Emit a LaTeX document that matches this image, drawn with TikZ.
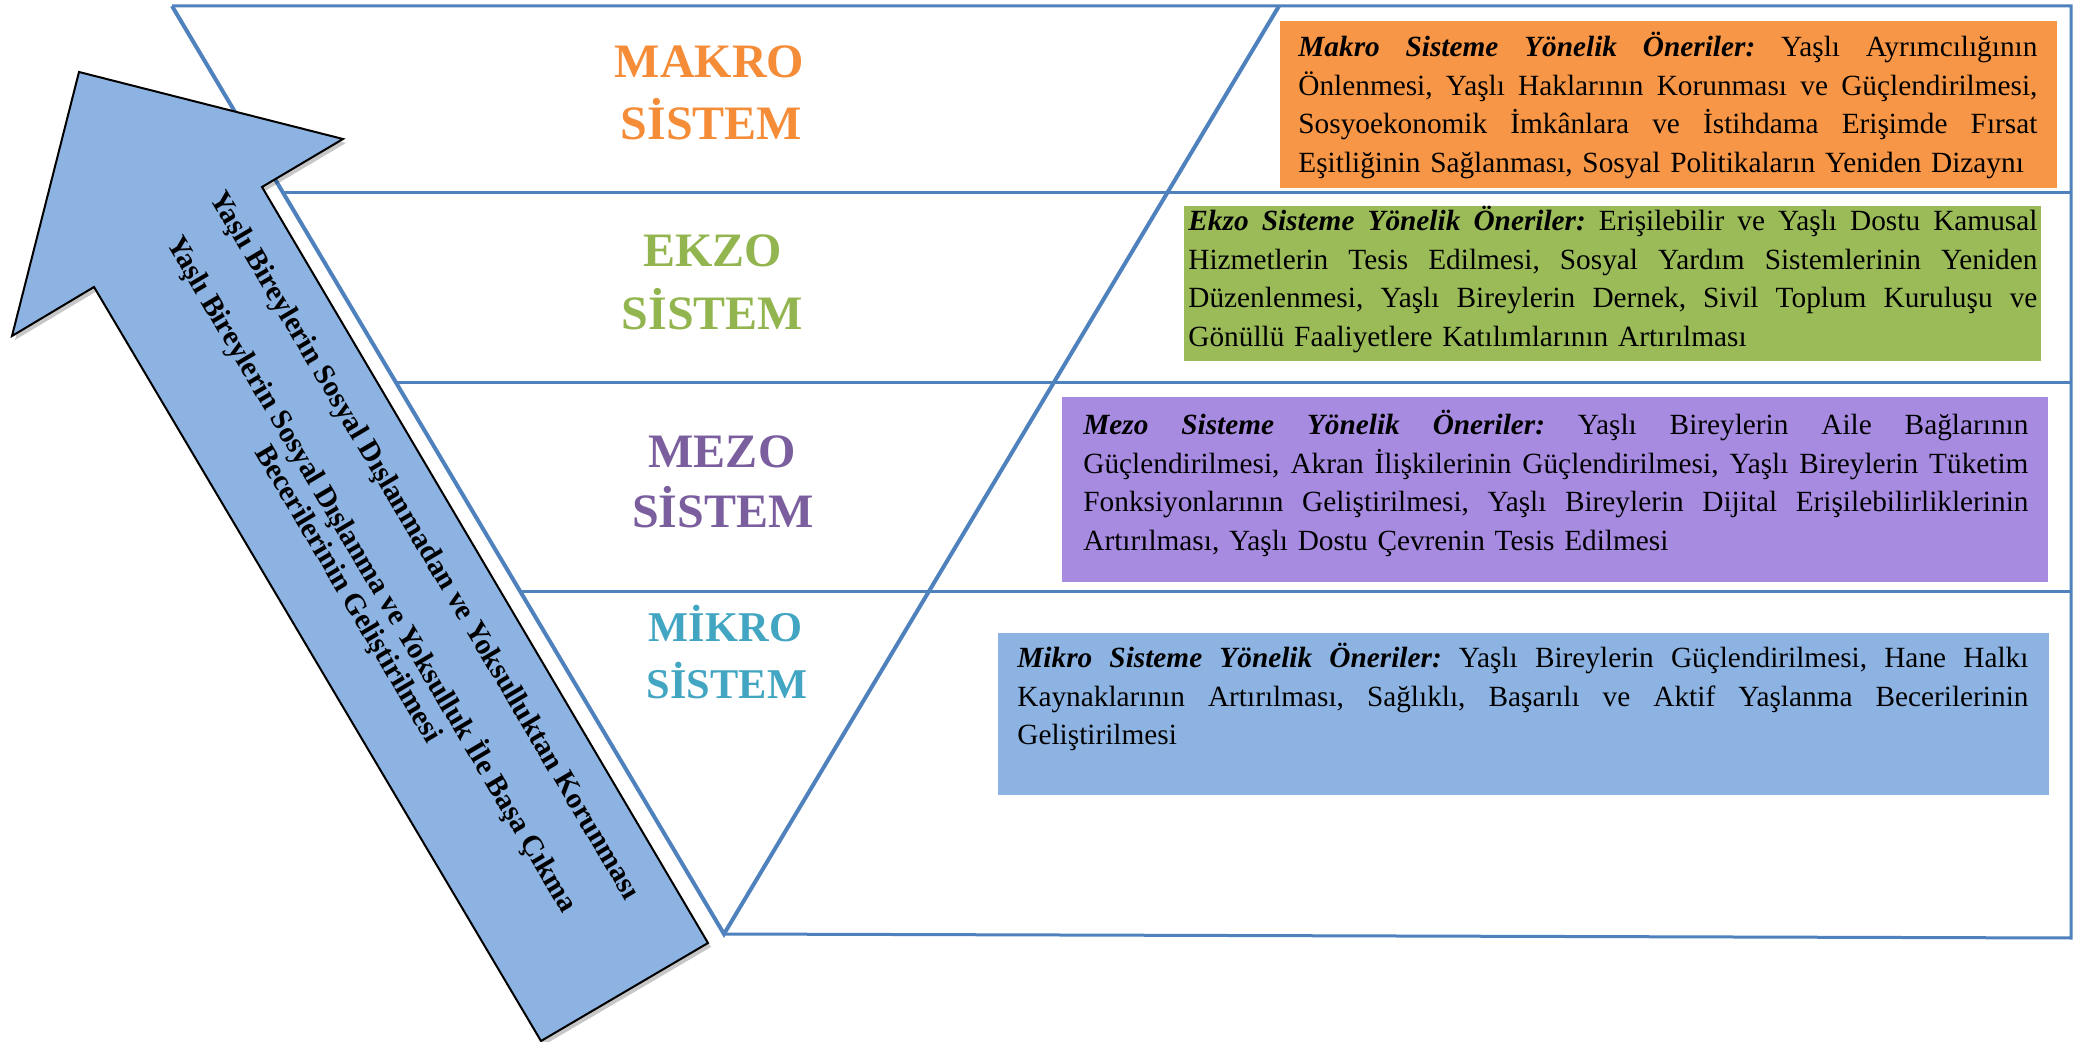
\documentclass[tikz,border=0pt]{standalone}
\usepackage{fontspec}
\setmainfont{Liberation Serif}
\definecolor{frameblue}{RGB}{79,129,189}
\definecolor{boxorange}{RGB}{247,150,70}
\definecolor{boxgreen}{RGB}{155,187,89}
\definecolor{boxpurple}{RGB}{167,139,225}
\definecolor{boxblue}{RGB}{141,179,226}
\definecolor{lblorange}{RGB}{244,140,56}
\definecolor{lblgreen}{RGB}{147,181,80}
\definecolor{lblpurple}{RGB}{122,94,158}
\definecolor{lblteal}{RGB}{66,166,194}
\newcommand{\jline}[2]{\leavevmode\hbox to #1{\spaceskip=0.25em plus 1fil\relax\xspaceskip=0.25em plus 1fil\relax #2}}
\newcommand{\lead}[1]{\textbf{\textit{#1}}}
\begin{document}
\begin{tikzpicture}[x=0.5pt,y=-0.5pt,
  hline/.style={draw=frameblue, line width=1.5pt},
  vedge/.style={draw=frameblue, line width=2pt, line join=miter},
  bodytext/.style={anchor=base west, inner sep=0pt, font=\fontsize{14.65}{19.25}\selectfont\frenchspacing},
  lblbig/.style={anchor=base, inner sep=0pt, font=\fontsize{24}{24}\selectfont\bfseries},
  lblsmall/.style={anchor=base, inner sep=0pt, font=\fontsize{21.2}{21.2}\selectfont\bfseries},
  arrowtext/.style={anchor=base, inner sep=0pt, rotate=-59.4, font=\fontsize{14.75}{17}\selectfont\bfseries},
  bigarrow/.style={draw=black, line width=1pt, fill=boxblue, line join=miter}
]
\useasboundingbox (0,0) rectangle (2083,1042);

% frame coordinates
\coordinate (tl) at (172,6);
\coordinate (tr) at (1279,6);
\coordinate (apex) at (724,934);
\coordinate (rtop) at (2071,6);
\coordinate (rbot) at (2071,938);
\coordinate (l1) at (283,193);  \coordinate (r1) at (2071,193);
\coordinate (l2) at (396,383);  \coordinate (r2) at (2071,383);
\coordinate (l3) at (521,592);  \coordinate (r3) at (2071,592);

% horizontal layer lines and right border
\draw[hline] (tl) -- (rtop) -- (rbot) -- (apex);
\draw[hline] (l1) -- (r1);
\draw[hline] (l2) -- (r2);
\draw[hline] (l3) -- (r3);
% inverted triangle
\draw[vedge] (tl) -- (apex) -- (tr);

% recommendation boxes
\fill[boxorange] (1280,21) rectangle (2057,188);
\fill[boxgreen] (1184,206) rectangle (2041,361);
\fill[boxpurple] (1062,397) rectangle (2048,582);
\fill[boxblue] (998,633) rectangle (2049,795);

\node[bodytext, text width=369.5pt] (makrotxt) at (1298,57) {%
\jline{369.5pt}{\lead{Makro Sisteme Yönelik Öneriler:} Yaşlı Ayrımcılığının}\\
\jline{369.5pt}{Önlenmesi, Yaşlı Haklarının Korunması ve Güçlendirilmesi,}\\
\jline{369.5pt}{Sosyoekonomik İmkânlara ve İstihdama Erişimde Fırsat}\\
Eşitliğinin Sağlanması, Sosyal Politikaların Yeniden Dizaynı};

\node[bodytext, text width=424.5pt] (ekzotxt) at (1188,231) {%
\jline{424.5pt}{\lead{Ekzo Sisteme Yönelik Öneriler:} Erişilebilir ve Yaşlı Dostu Kamusal}\\
\jline{424.5pt}{Hizmetlerin Tesis Edilmesi, Sosyal Yardım Sistemlerinin Yeniden}\\
\jline{424.5pt}{Düzenlenmesi, Yaşlı Bireylerin Dernek, Sivil Toplum Kuruluşu ve}\\
Gönüllü Faaliyetlere Katılımlarının Artırılması};

\node[bodytext, text width=472.5pt] (mezotxt) at (1083,435) {%
\jline{472.5pt}{\lead{Mezo Sisteme Yönelik Öneriler:} Yaşlı Bireylerin Aile Bağlarının}\\
\jline{472.5pt}{Güçlendirilmesi, Akran İlişkilerinin Güçlendirilmesi, Yaşlı Bireylerin Tüketim}\\
\jline{472.5pt}{Fonksiyonlarının Geliştirilmesi, Yaşlı Bireylerin Dijital Erişilebilirliklerinin}\\
Artırılması, Yaşlı Dostu Çevrenin Tesis Edilmesi};

\node[bodytext, text width=505.5pt] (mikrotxt) at (1017,668) {%
\jline{505.5pt}{\lead{Mikro Sisteme Yönelik Öneriler:} Yaşlı Bireylerin Güçlendirilmesi, Hane Halkı}\\
\jline{505.5pt}{Kaynaklarının Artırılması, Sağlıklı, Başarılı ve Aktif Yaşlanma Becerilerinin}\\
Geliştirilmesi};

% system labels
\node[lblbig, text=lblorange] (makroA) at (709.5,78) {MAKRO};
\node[lblbig, text=lblorange] (makroB) at (711.5,140) {SİSTEM};
\node[lblbig, text=lblgreen] (ekzoA) at (712.5,267) {EKZO};
\node[lblbig, text=lblgreen] (ekzoB) at (712.5,330) {SİSTEM};
\node[lblbig, text=lblpurple] (mezoA) at (722,468) {MEZO};
\node[lblbig, text=lblpurple] (mezoB) at (723,528) {SİSTEM};
\node[lblsmall, text=lblteal] (mikroA) at (725.5,642) {MİKRO};
\node[lblsmall, text=lblteal] (mikroB) at (727,698) {SİSTEM};

% big arrow with shadow
\fill[black, opacity=0.22] (82,76) -- (346,143) -- (265,191) -- (711,947) -- (544,1045) -- (97,291) -- (15,340) -- cycle;
\draw[bigarrow] (79,72) -- (343,139) -- (262,187) -- (708,943) -- (541,1041) -- (94,287) -- (12,336) -- cycle;

\node[arrowtext] (arr1) at (417.6,549.8) {Yaşlı Bireylerin Sosyal Dışlanmadan ve Yoksulluktan Korunması};
\node[arrowtext] (arr2) at (364.5,579) {Yaşlı Bireylerin Sosyal Dışlanma ve Yoksulluk İle Başa Çıkma};
\node[arrowtext] (arr3) at (341,598.5) {Becerilerinin Geliştirilmesi};
\end{tikzpicture}
\end{document}
